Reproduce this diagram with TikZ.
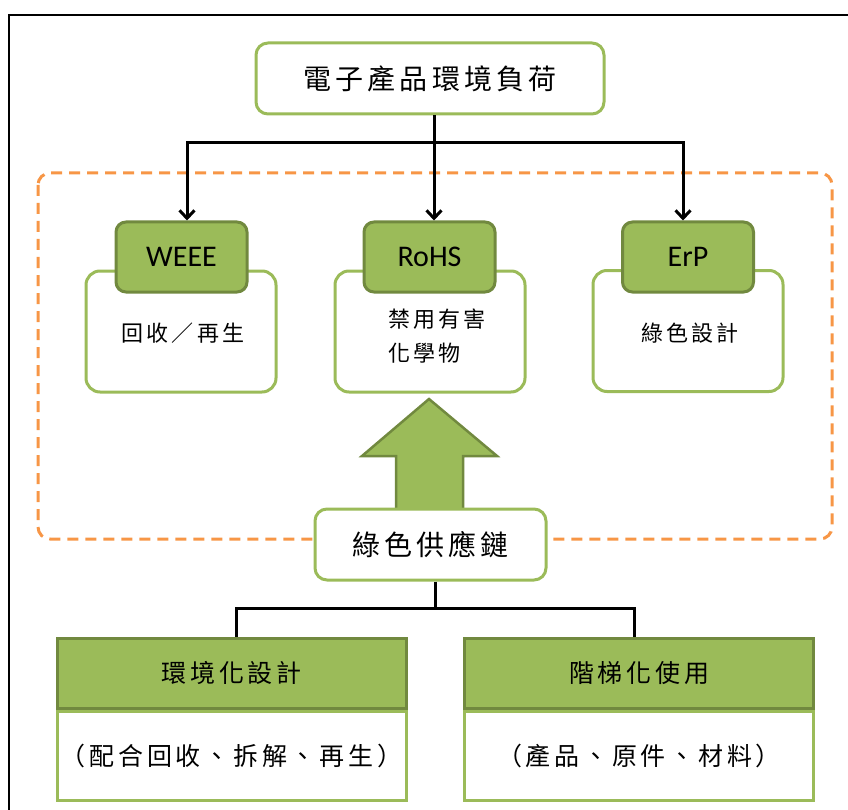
\documentclass[tikz,border=0pt]{standalone}
\usepackage{fontspec}
\setmainfont{Carlito}
\newfontfamily\cjk[LetterSpace=15]{Noto Sans CJK TC}
\usetikzlibrary{arrows.meta}
\definecolor{grn}{HTML}{9BBB59}
\definecolor{dgrn}{HTML}{71893F}
\definecolor{org}{HTML}{F79646}
\begin{document}
\begin{tikzpicture}[x=1pt,y=-1pt,
  whitebox/.style={draw=grn,line width=3pt,fill=white,rounded corners=14pt,minimum width=190pt,minimum height=121pt,inner sep=0pt},
  hdrbox/.style={draw=dgrn,line width=3pt,fill=grn,rounded corners=10pt,minimum width=131pt,minimum height=70pt,inner sep=0pt,font=\fontsize{30}{32}\selectfont},
  bigbox/.style={draw=grn,line width=3pt,fill=white,rounded corners=12pt,inner sep=0pt,font=\cjk\fontsize{28}{30}\selectfont},
  bodytext/.style={inner sep=0pt,font=\cjk\fontsize{22}{34}\selectfont,align=left},
  sqhdr/.style={draw=dgrn,line width=3pt,fill=grn,minimum width=349pt,minimum height=70pt,inner sep=0pt,font=\cjk\fontsize{25}{28}\selectfont},
  sqbody/.style={draw=grn,line width=3pt,fill=white,minimum width=349pt,minimum height=89pt,inner sep=0pt,font=\cjk\fontsize{25}{28}\selectfont},
  conn/.style={line width=3pt,black},
  tip/.style={-{Straight Barb[length=8pt,width=15pt]}}
]
\useasboundingbox (0,0) rectangle (848,810);
\begin{scope}
  \clip (0,0) rectangle (848,810);
  \draw[line width=2.5pt] (9,15) rectangle (870,840);
\end{scope}

% dashed group
\draw[org,line width=3pt,dash pattern=on 11pt off 7pt,rounded corners=12pt] (38,173) rectangle (832,539);

% white boxes
\node[whitebox] (weeew) at (181,331.5) {};
\node[whitebox] (rohsw) at (430,331.5) {};
\node[whitebox] (erpw) at (688,331) {};
% header boxes
\node[hdrbox] (weee) at (181.5,257) {WEEE};
\node[hdrbox] (rohs) at (429.5,257) {RoHS};
\node[hdrbox] (erp) at (688,257) {ErP};
% body texts
\node[bodytext] (weeet) at (183,333) {回收／再生};
\node[bodytext] (rohst) at (437,336) {禁用有害\\化學物};
\node[bodytext] (erpt) at (690,333) {綠色設計};

% top box
\node[bigbox,minimum width=348pt,minimum height=71pt] (top) at (430,78.5) {電子產品環境負荷};

% big arrow
\draw[fill=grn,draw=dgrn,line width=2.5pt,line join=miter]
  (429,399) -- (497,456) -- (463,456) -- (463,512) -- (396,512) -- (396,456) -- (362,456) -- cycle;

% chain box
\node[bigbox,minimum width=231pt,minimum height=71pt] (chain) at (430.5,544.5) {綠色供應鏈};

% top connectors
\coordinate (j1) at (434,143);
\draw[conn] (j1 |- top.south) -- (j1);
\draw[conn,tip] (j1) -- (j1 |- rohs.north);
\draw[conn,tip] (j1) -| ([xshift=5.5pt]weee.north);
\draw[conn,tip] (j1) -| ([xshift=-5pt]erp.north);

% bottom boxes
\node[sqhdr] (envh) at (231.5,673) {環境化設計};
\node[sqbody,anchor=north] (envb) at (envh.south) {（配合回收、拆解、再生）};
\node[sqhdr] (useh) at (639,673) {階梯化使用};
\node[sqbody,anchor=north] (useb) at (useh.south) {（產品、原件、材料）};

% bottom connectors
\coordinate (j2) at (435,608);
\draw[conn] (j2 |- chain.south) -- (j2);
\draw[conn] (j2) -| ([xshift=4.5pt]envh.north);
\draw[conn] (j2) -| ([xshift=-5pt]useh.north);
\end{tikzpicture}
\end{document}
